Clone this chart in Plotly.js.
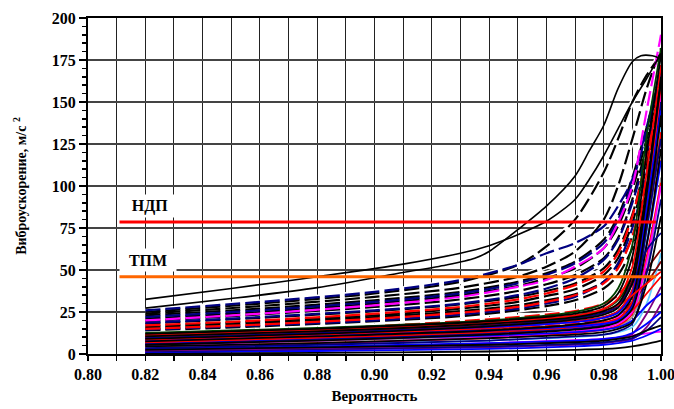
<!DOCTYPE html>
<html>
<head>
<meta charset="utf-8">
<script src="https://cdn.plot.ly/plotly-3.0.1.min.js"></script>
<style>
  html, body { margin: 0; padding: 0; background: #ffffff; }
  #chart { width: 674px; height: 409px; }
</style>
</head>
<body>
<div id="chart"></div>
<script>
// Probability grids (x) for the different curve families
const pLow   = [0.82, 0.88, 0.94, 0.97, 0.98, 0.985, 0.99, 0.995, 1.0];
const pDash  = [0.82, 0.86, 0.90, 0.93, 0.95, 0.96, 0.97, 0.98, 0.985, 0.99, 0.995, 1.0];
const pUpper = [0.82, 0.85, 0.88, 0.91, 0.93, 0.94, 0.95, 0.96, 0.97, 0.975, 0.98, 0.985, 0.99, 0.995, 1.0];
const pPeak  = [0.82, 0.85, 0.88, 0.91, 0.925, 0.935, 0.94, 0.95, 0.96, 0.97, 0.975, 0.98, 0.985, 0.99, 0.993, 0.997, 0.9995];

// Axis tick values
const xTicks = [0.80, 0.82, 0.84, 0.86, 0.88, 0.90, 0.92, 0.94, 0.96, 0.98, 1.00];
const xTickText = ['0.80', '0.82', '0.84', '0.86', '0.88', '0.90', '0.92', '0.94', '0.96', '0.98', '1.00'];

// Two upper solid black curves, m/s^2
const upperCurve = [32.5, 39, 46, 53.5, 60, 64.5, 71, 79, 92, 104, 118, 134, 150, 164, 179];
const peakCurve  = [27.3, 33, 39.5, 48.5, 53, 57, 61, 74, 88, 106, 121, 136, 158, 174, 177.5, 177.5, 176];

// Dashed curves (on pDash)
const dashNavy = [
  [26, 31, 37, 44, 53, 60, 66, 76, 88, 104, 135, 171],
  [22, 26, 31, 36, 42, 47, 54, 66, 80, 102, 132, 166],
  [18.5, 22, 26, 30, 35, 39, 45, 56, 68, 90, 120, 158],
  [14.5, 17, 20, 23.5, 27, 30, 34, 43, 54, 75, 108, 142]
];
const dashBlack = [
  [25, 30, 36, 43, 53, 64, 80, 108, 128, 150, 166, 178],
  [24, 28.5, 34, 39.5, 46, 52, 61, 80, 100, 128, 158, 182],
  [23, 27, 32, 37, 43, 48, 55, 68, 82, 105, 135, 168],
  [21, 25, 30, 35, 40.5, 45, 51, 63, 76, 98, 128, 162],
  [19.5, 23.5, 28, 32.5, 37.5, 41.5, 47, 57, 69, 92, 124, 160],
  [18, 21.5, 25.5, 29.5, 34, 37.5, 42, 51, 62, 83, 116, 153],
  [16.5, 19.5, 23, 27, 31, 34.5, 38.5, 47, 57, 78, 112, 148],
  [15.5, 18.5, 22, 25.5, 29, 32, 35.5, 43, 52, 70, 100, 138],
  [14, 16.5, 19.5, 22.5, 26, 28.5, 32, 39, 47, 63, 92, 128]
];
const dashMagenta = [
  [20, 24, 29, 34, 40, 44, 52, 63, 78, 100, 145, 190]
];
const dashRed = [
  [17, 20, 24, 28, 32.5, 36, 41, 49, 60, 82, 118, 158],
  [15, 17.5, 21, 24.5, 28, 31, 35, 42, 51, 70, 104, 145],
  [11, 13.5, 16.5, 19.5, 22, 23.5, 25.5, 30, 35, 47, 82, 130],
  [7, 9, 11.5, 14, 15.5, 16.5, 18, 21.5, 25, 36, 70, 120]
];

// Solid curves of the lower bundle (on pLow)
const solidCyan = [
  [6, 9, 12.5, 15, 17, 19, 27, 70, 135],
  [3.5, 5.5, 8, 10, 11.5, 13, 16, 30, 60]
];
const solidGrey = [
  [5, 7.5, 10.5, 13, 14.5, 16.5, 22, 50, 105]
];
const solidPurple = [
  [1, 2.5, 4, 5.5, 6.5, 7.5, 9, 16, 30],
  [2, 3.5, 5.5, 7.5, 8.5, 9.5, 12, 24, 40]
];
const solidGreen = [
  [12.5, 15.5, 20, 25, 30, 39, 65, 130, 182],
  [11, 14, 18.5, 23, 26.5, 32, 47, 95, 158]
];
const solidDarkRed = [
  [6.5, 9.5, 13, 16, 18, 21, 30, 50, 62],
  [8, 11, 14.5, 17.5, 20, 23, 31, 42, 55],
  [10, 13, 17, 21, 24.5, 29, 44, 85, 128]
];
const solidMagenta = [
  [1.5, 3.5, 6.5, 8.2, 9, 9.8, 11, 12.3, 13.3],
  [3, 6, 10, 13.5, 15.5, 18, 25, 55, 100],
  [5, 8, 11.5, 15, 18, 22, 35, 88, 155]
];
const solidBlue = [
  [0.8, 1.8, 3, 4.5, 5.5, 6.5, 8, 11, 15],
  [3, 4.5, 6.5, 8, 9, 10, 12.5, 18, 25],
  [6, 8.5, 11, 13, 14.5, 16, 20, 29, 36],
  [8, 11, 14, 16.5, 18, 20, 28, 65, 115],
  [9.5, 12.5, 16, 19, 21.5, 24.5, 36, 88, 145]
];
const solidNavy = [
  [1.5, 3, 4.5, 6, 7, 8, 9.5, 14, 22],
  [3.5, 5.5, 8, 10.5, 11.5, 13.5, 18, 48, 92],
  [5.5, 8.5, 12, 15, 17, 19.5, 29, 75, 128],
  [9, 12, 16, 19.5, 22, 25.5, 38, 85, 150],
  [10, 13, 17.5, 21.5, 24.5, 28.5, 42, 62, 72]
];
const solidRed = [
  [4, 6.5, 9.5, 12.5, 14.5, 17, 24, 58, 102],
  [6, 9, 12.5, 16, 18, 21, 31, 75, 132],
  [7, 10, 13.5, 17, 19, 21, 26, 36, 46],
  [8.5, 11.5, 15.5, 19.5, 22, 25.5, 38, 90, 160],
  [10.5, 13.5, 18, 22.5, 27, 33, 52, 108, 172],
  [11.5, 14.5, 19, 23, 26, 29, 35, 42, 49]
];
const solidBlack = [
  [0, 0.7, 1.5, 2.5, 3, 3.5, 4.5, 6, 8],
  [2.5, 4, 5.5, 7, 8, 9, 10.5, 14, 17],
  [4.5, 6.5, 9.5, 11.5, 13, 15, 19, 42, 82],
  [5.5, 8, 11.5, 14.5, 16.5, 19, 27, 65, 122],
  [7.5, 10.5, 14, 17.5, 20, 23, 34, 80, 142],
  [9, 12, 16.5, 20.5, 23.5, 27.5, 42, 95, 165],
  [12, 15, 19.5, 24, 28.5, 36, 58, 120, 178],
  [10.5, 13.5, 18, 22, 25.5, 30, 47, 100, 162]
];

// Threshold levels and their span on the probability axis
const limitSpan = [0.811, 0.9983];
const ndpLevel = 78.5;
const tpmLevel = 46;
const ndpLabel = 'НДП';
const tpmLabel = 'ТПМ';

const serif = 'Liberation Serif';
const traces = [];

function line(x, y, color, width, dash) {
  return {
    type: 'scatter', mode: 'lines', x: x, y: y,
    line: { color: color, width: width, dash: dash || 'solid', shape: 'spline', smoothing: 0.8 },
    hoverinfo: 'skip', showlegend: false
  };
}

const dashedGroups = [
  [dashRed, '#FF0000'],
  [dashBlack, '#000000'],
  [dashNavy, '#000080'],
  [dashMagenta, '#FF00FF']
];

// white backing under dashed curves, so the gaps between dashes stay clear
dashedGroups.forEach(([rows]) => rows.forEach(r => traces.push(line(pDash, r, '#FFFFFF', 5))));
// dashed curves themselves, interleaved by colour
const maxRows = Math.max(...dashedGroups.map(g => g[0].length));
for (let i = maxRows - 1; i >= 0; i--) {
  dashedGroups.forEach(([rows, color]) => {
    if (rows[i]) traces.push(line(pDash, rows[i], color, 2.2, '15px,5px'));
  });
}

// lower bundle of solid curves
const solidGroups = [
  [solidCyan, '#66CCFF'],
  [solidGrey, '#969696'],
  [solidPurple, '#800080'],
  [solidGreen, '#004000'],
  [solidDarkRed, '#800000'],
  [solidMagenta, '#FF00FF'],
  [solidBlue, '#0000FF'],
  [solidNavy, '#000080'],
  [solidRed, '#FF0000'],
  [solidBlack, '#000000']
];
const maxSolid = Math.max(...solidGroups.map(g => g[0].length));
for (let i = 0; i < maxSolid; i++) {
  solidGroups.forEach(([rows, color]) => {
    if (rows[i]) traces.push(line(pLow, rows[i], color, 1.8));
  });
}

// two upper curves
traces.push(line(pUpper, upperCurve, '#000000', 1.6));
traces.push(line(pPeak, peakCurve, '#000000', 1.6));

// threshold levels
traces.push({ type: 'scatter', mode: 'lines', x: limitSpan, y: [ndpLevel, ndpLevel],
  line: { color: '#FF0000', width: 3 }, hoverinfo: 'skip', showlegend: false });
traces.push({ type: 'scatter', mode: 'lines', x: limitSpan, y: [tpmLevel, tpmLevel],
  line: { color: '#FF6600', width: 3 }, hoverinfo: 'skip', showlegend: false });

const tickFont = { family: serif, size: 16, color: '#000000', weight: 'bold' };

const layout = {
  width: 674, height: 409,
  margin: { l: 88, r: 13, t: 18, b: 55 },
  paper_bgcolor: '#FFFFFF', plot_bgcolor: '#FFFFFF',
  font: { family: serif, color: '#000000' },
  showlegend: false,
  xaxis: {
    range: [0.8, 1.0], tickmode: 'array', tickvals: xTicks, ticktext: xTickText,
    ticklabeloverflow: 'allow',
    ticks: 'outside', ticklen: 5, tickwidth: 1.5, tickcolor: '#000000',
    showline: true, linewidth: 2, linecolor: '#000000', mirror: true,
    showgrid: true, gridcolor: '#222222', gridwidth: 1, zeroline: false,
    tickfont: tickFont,
    minor: { tickmode: 'linear', tick0: 0.8, dtick: 0.01, ticks: 'outside', ticklen: 5, tickwidth: 1.5,
             tickcolor: '#000000', showgrid: true, gridcolor: '#222222', gridwidth: 1 },
    title: { text: 'Вероятность', standoff: 8,
             font: { family: serif, size: 15, color: '#000000', weight: 'bold' } }
  },
  yaxis: {
    range: [0, 200], tick0: 0, dtick: 25,
    ticks: 'outside', ticklen: 7, tickwidth: 1.5, tickcolor: '#000000',
    showline: true, linewidth: 2, linecolor: '#000000', mirror: true,
    showgrid: true, gridcolor: '#444444', gridwidth: 1.3, zeroline: false,
    tickfont: tickFont,
    minor: { dtick: 5, ticks: 'outside', ticklen: 4, tickwidth: 1.5, tickcolor: '#000000', showgrid: false },
    title: { text: 'Виброускорение, м/с <sup>2</sup>', standoff: 22,
             font: { family: serif, size: 14, color: '#000000', weight: 'bold' } }
  },
  annotations: [
    { x: 0.8216, y: 88, xref: 'x', yref: 'y', text: ndpLabel, showarrow: false,
      font: { family: serif, size: 16, color: '#000000', weight: 'bold' },
      bgcolor: '#FFFFFF', width: 52, height: 20 },
    { x: 0.8209, y: 56, xref: 'x', yref: 'y', text: tpmLabel, showarrow: false,
      font: { family: serif, size: 16, color: '#000000', weight: 'bold' },
      bgcolor: '#FFFFFF', width: 54, height: 20 }
  ]
};

Plotly.newPlot('chart', traces, layout, { staticPlot: true, displayModeBar: false });
</script>
</body>
</html>
